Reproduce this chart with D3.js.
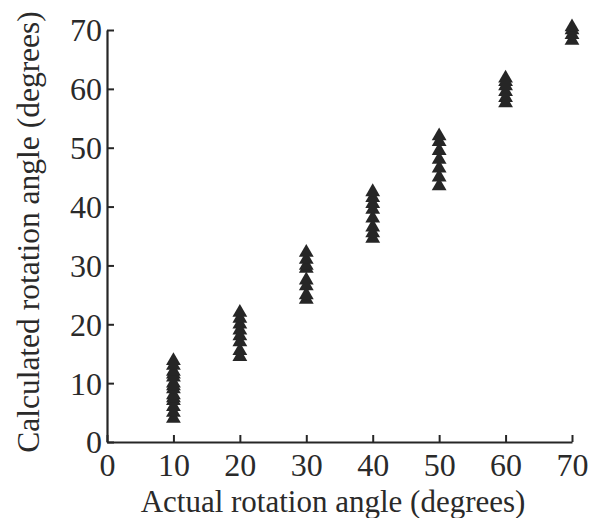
<!DOCTYPE html>
<html>
<head>
<meta charset="utf-8">
<script src="https://cdn.jsdelivr.net/npm/d3@7"></script>
<style>
  html, body { margin: 0; padding: 0; background: #fff; }
  svg text { font-family: "Liberation Serif", "Times New Roman", serif; fill: #2a2a2a; }
</style>
</head>
<body>
<svg id="chart" width="598" height="518"></svg>
<script>
// Data (actual angle -> calculated angles)
const actual10 = [4, 5, 6, 7, 7.5, 8, 9, 9.5, 10, 11, 11.5, 12, 13, 13.8];
const actual20 = [14.5, 15.5, 17, 18, 19, 20, 21, 22];
const actual30 = [24.2, 25, 26.5, 27.5, 29.5, 30, 31, 32.2];
const actual40 = [34.6, 35.5, 36.5, 38, 39.5, 40.5, 41.5, 42.5];
const actual50 = [43.5, 45, 46.5, 48, 49.5, 51, 52];
const actual60 = [57.6, 58.5, 59.5, 60.5, 61.2, 61.8];
const actual70 = [68.2, 69.2, 70, 70.5];
const xTicks = [0, 10, 20, 30, 40, 50, 60, 70];
const yTicks = [0, 10, 20, 30, 40, 50, 60, 70];
const xTitle = "Actual rotation angle (degrees)";
const yTitle = "Calculated rotation angle (degrees)";

const series = [
  { x: 10, ys: actual10 }, { x: 20, ys: actual20 }, { x: 30, ys: actual30 },
  { x: 40, ys: actual40 }, { x: 50, ys: actual50 }, { x: 60, ys: actual60 },
  { x: 70, ys: actual70 }
];
const points = series.flatMap(s => s.ys.map(y => ({ x: s.x, y })));

const svg = d3.select("#chart");
const x = d3.scaleLinear().domain([0, 70]).range([107, 572]);
const y = d3.scaleLinear().domain([0, 70]).range([442, 30]);
const ink = "#262626";

// axes (ticks point inward)
const xAxis = d3.axisBottom(x).tickValues(xTicks).tickSize(-7).tickPadding(14).tickSizeOuter(0);
const yAxis = d3.axisLeft(y).tickValues(yTicks).tickSize(-7).tickPadding(7).tickSizeOuter(0);

const gx = svg.append("g").attr("transform", `translate(0,${y(0)})`).call(xAxis);
const gy = svg.append("g").attr("transform", `translate(${x(0)},0)`).call(yAxis);
[gx, gy].forEach(g => {
  g.select(".domain").attr("stroke", ink).attr("stroke-width", 2.2);
  g.selectAll(".tick line").attr("stroke", ink).attr("stroke-width", 2);
  g.selectAll(".tick text").attr("font-size", 32).attr("fill", ink)
    .style("font-family", '"Liberation Serif", serif');
});
gx.selectAll(".tick text").attr("dy", "0.71em").attr("y", 11);
gy.selectAll(".tick text").attr("dy", "0.34em").attr("x", -5);

// points
const tri = d3.symbol().type(d3.symbolTriangle).size(95);
svg.append("g").selectAll("path").data(points).join("path")
  .attr("d", tri)
  .attr("transform", d => `translate(${x(d.x)},${y(d.y)})`)
  .attr("fill", ink);

// titles
svg.append("text").attr("x", 333).attr("y", 512).attr("text-anchor", "middle")
  .attr("font-size", 31).text(xTitle);
svg.append("text").attr("transform", "translate(39,232) rotate(-90)")
  .attr("text-anchor", "middle").attr("font-size", 31.5).text(yTitle);
</script>
</body>
</html>
